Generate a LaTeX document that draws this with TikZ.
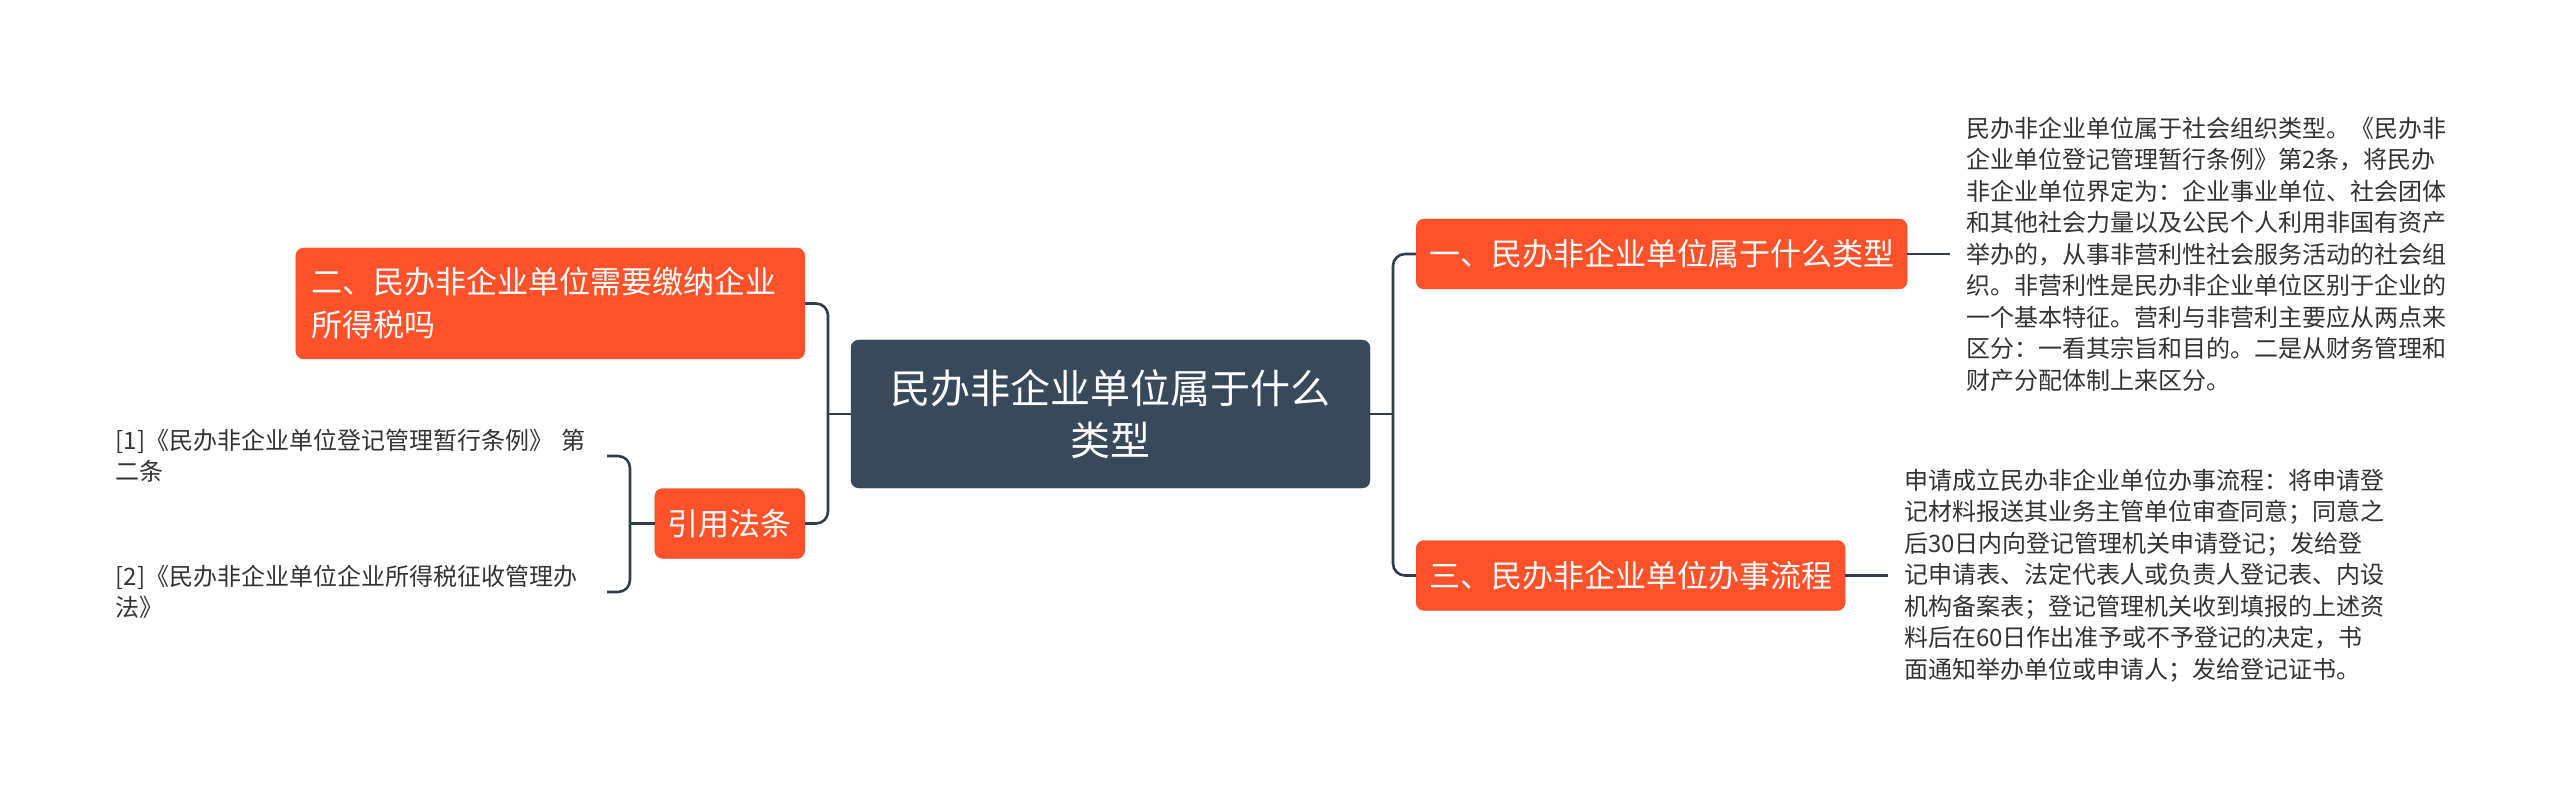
\documentclass[tikz,border=0pt]{standalone}
\usepackage{fontspec}
\setmainfont{Noto Sans CJK SC}
\usepackage{xcolor}
\usepackage{tikz}
\usetikzlibrary{positioning}

\definecolor{topicorange}{HTML}{FF522B}
\definecolor{rootslate}{HTML}{37495B}
\definecolor{linkslate}{HTML}{2F3E4D}
\definecolor{notegray}{HTML}{333333}

\begin{document}
\begin{tikzpicture}[
    x=1pt, y=-1pt,
    root/.style={rectangle, draw=rootslate!80!black, fill=rootslate, rounded corners=8pt, text=white, align=center, font=\fontsize{40}{52}\selectfont, minimum width=519pt, minimum height=148pt},
    topic/.style={rectangle, draw=topicorange!92!black, fill=topicorange, rounded corners=8pt, text=white, font=\fontsize{31}{43}\selectfont, minimum height=70pt, inner xsep=13pt},
    note/.style={align=left, text=notegray, font=\fontsize{24}{31.5}\selectfont, inner xsep=16pt, inner ysep=0pt},
    ref/.style={align=left, text=notegray, font=\fontsize{24}{31}\selectfont, text width=491pt, inner sep=0pt},
    edge/.style={draw=linkslate, line width=2.6pt, rounded corners=12pt}
]
    \fill[white] (0,0) rectangle (2560,799);
    \useasboundingbox (0,0) rectangle (2560,799);

    \node[root] (root) at (1110.5,414) {民办非企业单位属于什么\\类型};
    \node[topic, anchor=west] (kind) at (1416,254) {一、民办非企业单位属于什么类型};
    \node[topic, anchor=west] (flow) at (1416,575.5) {三、民办非企业单位办事流程};
    \node[topic, anchor=east, align=left, text width=477pt, inner xsep=16pt, minimum height=111pt] (tax) at (805,303.5) {二、民办非企业单位需要缴纳企业\\所得税吗};
    \node[topic, anchor=east] (cite) at (805,523.5) {引用法条};

    \node[note, anchor=west] (kindnote) at (1950,254) {民办非企业单位属于社会组织类型。《民办非\\企业单位登记管理暂行条例》第2条，将民办\\非企业单位界定为：企业事业单位、社会团体\\和其他社会力量以及公民个人利用非国有资产\\举办的，从事非营利性社会服务活动的社会组\\织。非营利性是民办非企业单位区别于企业的\\一个基本特征。营利与非营利主要应从两点来\\区分：一看其宗旨和目的。二是从财务管理和\\财产分配体制上来区分。};
    \node[note, anchor=west] (flownote) at (1888,575.5) {申请成立民办非企业单位办事流程：将申请登\\记材料报送其业务主管单位审查同意；同意之\\后30日内向登记管理机关申请登记；发给登\\记申请表、法定代表人或负责人登记表、内设\\机构备案表；登记管理机关收到填报的上述资\\料后在60日作出准予或不予登记的决定，书\\面通知举办单位或申请人；发给登记证书。};
    \node[ref, anchor=east] (refone) at (607,456) {[1]《民办非企业单位登记管理暂行条例》 第\\二条};
    \node[ref, anchor=east] (reftwo) at (607,592) {[2]《民办非企业单位企业所得税征收管理办\\法》};

    \coordinate (rjoin) at (1393,414);
    \coordinate (ljoin) at (828,414);
    \coordinate (cjoin) at (630,523.5);

    \draw[edge] (root.east) -- (rjoin);
    \draw[edge] (rjoin) |- (kind.west);
    \draw[edge] (rjoin) |- (flow.west);
    \draw[edge] (root.west) -- (ljoin);
    \draw[edge] (ljoin) |- (tax.east);
    \draw[edge] (ljoin) |- (cite.east);
    \draw[edge] (cite.west) -- (cjoin);
    \draw[edge] (cjoin) |- (refone.east);
    \draw[edge] (cjoin) |- (reftwo.east);
    \draw[edge] (kind.east) -- (kindnote.west);
    \draw[edge] (flow.east) -- (flownote.west);
\end{tikzpicture}
\end{document}
